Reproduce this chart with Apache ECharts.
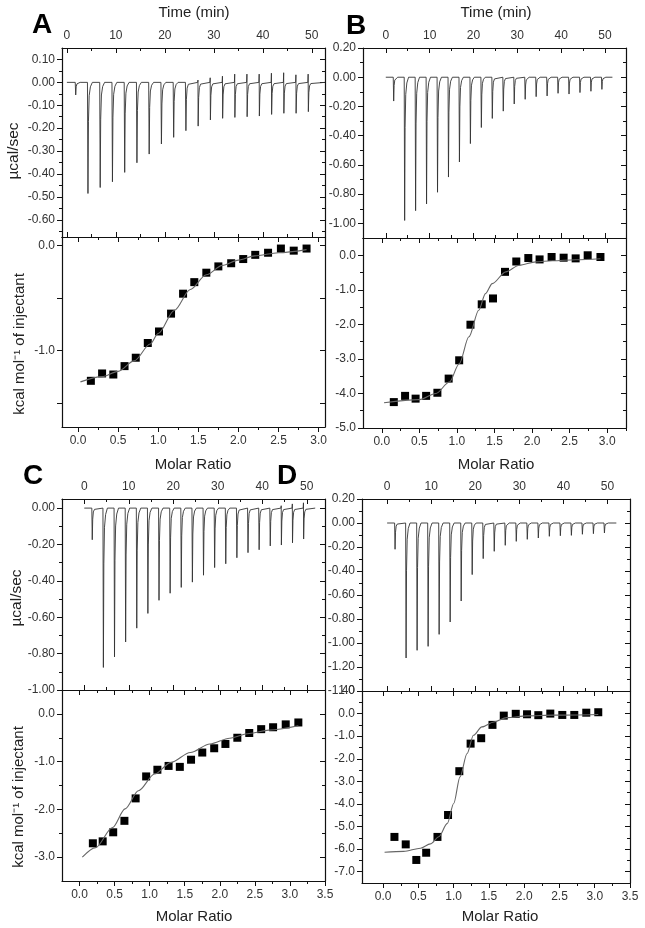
<!DOCTYPE html>
<html>
<head>
<meta charset="utf-8">
<script src="https://cdn.jsdelivr.net/npm/echarts@6/dist/echarts.min.js"></script>
<style>
  html, body { margin: 0; padding: 0; background: #fff; }
  #main { width: 645px; height: 928px; }
</style>
</head>
<body>
<div id="main"></div>
<script>
// injection times (min), same schedule in all four runs
const injTime = [1.8, 4.3, 6.8, 9.3, 11.8, 14.3, 16.8, 19.3, 21.8, 24.3, 26.8, 29.3, 31.8, 34.3, 36.8, 39.3, 41.8, 44.3, 46.8, 49.3];

// raw thermogram peak heights (ucal/sec)
const peakA = [-0.055, -0.485, -0.459, -0.434, -0.393, -0.351, -0.313, -0.269, -0.24, -0.211, -0.191, -0.164, -0.157, -0.153, -0.15, -0.147, -0.14, -0.135, -0.135, -0.128];
const blipA = [0, 0, 0, 0, 0, 0, 0, 0, 0, 0, 0.01, 0.02, 0.027, 0.036, 0.036, 0.036, 0.04, 0.042, 0.033, 0.036];
const peakB = [-0.163, -0.98, -0.913, -0.867, -0.787, -0.683, -0.58, -0.454, -0.344, -0.282, -0.232, -0.183, -0.151, -0.133, -0.128, -0.11, -0.115, -0.105, -0.096, -0.083];
const blipB = [0, 0, 0, 0, 0, 0, 0, 0, 0, 0, 0, 0, 0, 0, 0, 0, 0, 0, 0, 0];
const peakC = [-0.174, -0.876, -0.818, -0.736, -0.66, -0.579, -0.507, -0.468, -0.436, -0.407, -0.369, -0.327, -0.306, -0.273, -0.245, -0.229, -0.208, -0.203, -0.191, -0.17];
const blipC = [0, 0, 0, 0, 0, 0, 0, 0, 0, 0, 0, 0, 0, 0, 0, 0, 0.005, 0.013, 0.023, 0.029];
const peakD = [-0.219, -1.125, -1.061, -1.028, -0.928, -0.825, -0.65, -0.43, -0.297, -0.236, -0.186, -0.153, -0.136, -0.125, -0.111, -0.106, -0.103, -0.094, -0.089, -0.083];
const blipD = [0, 0, 0, 0, 0, 0, 0, 0, 0, 0, 0, 0, 0, 0, 0, 0, 0, 0, 0, 0];

// integrated heats (kcal/mol of injectant) vs molar ratio
const ratioA = [0.16, 0.30, 0.44, 0.58, 0.72, 0.87, 1.01, 1.16, 1.31, 1.45, 1.60, 1.75, 1.91, 2.06, 2.21, 2.37, 2.53, 2.69, 2.85];
const heatA = [-1.29, -1.22, -1.23, -1.15, -1.07, -0.93, -0.82, -0.65, -0.46, -0.35, -0.26, -0.20, -0.17, -0.13, -0.09, -0.07, -0.03, -0.05, -0.03];
const fitXA = [0.03, 0.3, 0.5, 0.7, 0.9, 1.0, 1.2, 1.4, 1.6, 1.8, 2.0, 2.2, 2.5, 2.85];
const fitYA = [-1.30, -1.25, -1.20, -1.10, -0.94, -0.84, -0.62, -0.42, -0.28, -0.19, -0.14, -0.10, -0.07, -0.04];

const ratioB = [0.16, 0.31, 0.45, 0.59, 0.74, 0.89, 1.03, 1.18, 1.33, 1.48, 1.64, 1.79, 1.95, 2.10, 2.26, 2.42, 2.58, 2.74, 2.91];
const heatB = [-4.25, -4.07, -4.15, -4.07, -3.98, -3.57, -3.04, -2.01, -1.42, -1.25, -0.48, -0.18, -0.08, -0.12, -0.05, -0.07, -0.09, 0.0, -0.05];
const fitXB = [0.03, 0.5, 0.72, 0.9, 1.03, 1.16, 1.29, 1.38, 1.47, 1.65, 1.83, 2.05, 2.27, 2.58, 2.91];
const fitYB = [-4.27, -4.18, -4.0, -3.67, -3.14, -2.36, -1.59, -1.11, -0.82, -0.48, -0.29, -0.19, -0.16, -0.13, -0.10];

const ratioC = [0.19, 0.33, 0.48, 0.64, 0.80, 0.95, 1.11, 1.27, 1.43, 1.59, 1.75, 1.92, 2.08, 2.25, 2.42, 2.59, 2.76, 2.94, 3.12];
const heatC = [-2.71, -2.67, -2.48, -2.24, -1.77, -1.31, -1.17, -1.09, -1.11, -0.96, -0.81, -0.72, -0.63, -0.50, -0.40, -0.32, -0.28, -0.22, -0.18];
const fitXC = [0.04, 0.23, 0.47, 0.65, 0.84, 1.07, 1.30, 1.58, 1.86, 2.14, 2.42, 2.70, 3.12];
const fitYC = [-3.0, -2.80, -2.38, -1.99, -1.61, -1.26, -1.02, -0.81, -0.63, -0.51, -0.41, -0.34, -0.25];

const ratioD = [0.16, 0.32, 0.47, 0.61, 0.77, 0.92, 1.08, 1.24, 1.39, 1.55, 1.71, 1.88, 2.04, 2.20, 2.37, 2.54, 2.71, 2.88, 3.05];
const heatD = [-5.46, -5.79, -6.48, -6.16, -5.46, -4.49, -2.55, -1.33, -1.09, -0.50, -0.09, -0.01, -0.03, -0.07, 0.0, -0.06, -0.06, 0.04, 0.06];
const fitXD = [0.02, 0.29, 0.53, 0.67, 0.79, 0.91, 1.0, 1.09, 1.19, 1.28, 1.40, 1.57, 1.75, 2.04, 2.42, 3.05];
const fitYD = [-6.14, -6.10, -5.96, -5.77, -5.45, -4.86, -3.98, -2.80, -1.77, -0.96, -0.59, -0.37, -0.18, -0.10, -0.07, -0.04];

// tick labels
const timeTicks = [0, 10, 20, 30, 40, 50];
const timeMinor = [5, 15, 25, 35, 45];
const ratioTicks = [0, 0.5, 1.0, 1.5, 2.0, 2.5, 3.0];
const ratioTicks35 = [0, 0.5, 1.0, 1.5, 2.0, 2.5, 3.0, 3.5];
const ratioMinor = [0.25, 0.75, 1.25, 1.75, 2.25, 2.75, 3.25];
const rawTicksA = [0.1, 0, -0.1, -0.2, -0.3, -0.4, -0.5, -0.6];
const rawMinorA = [0.05, -0.05, -0.15, -0.25, -0.35, -0.45, -0.55, -0.65];
const rawTicksB = [0.2, 0, -0.2, -0.4, -0.6, -0.8, -1.0];
const rawMinorB = [0.1, -0.1, -0.3, -0.5, -0.7, -0.9];
const rawTicksC = [0, -0.2, -0.4, -0.6, -0.8, -1.0];
const rawMinorC = [-0.1, -0.3, -0.5, -0.7, -0.9];
const rawTicksD = [0.2, 0, -0.2, -0.4, -0.6, -0.8, -1.0, -1.2, -1.4];
const rawMinorD = [0.1, -0.1, -0.3, -0.5, -0.7, -0.9, -1.1, -1.3];
const heatTicksA = [0, -1.0];
const heatMinorA = [-0.5, -1.5];
const heatTicksB = [0, -1, -2, -3, -4, -5];
const heatMinorB = [-0.5, -1.5, -2.5, -3.5, -4.5];
const heatTicksC = [0, -1, -2, -3];
const heatMinorC = [-0.5, -1.5, -2.5];
const heatTicksD = [1, 0, -1, -2, -3, -4, -5, -6, -7];
const heatMinorD = [0.5, -0.5, -1.5, -2.5, -3.5, -4.5, -5.5, -6.5];

const FONT = 'Liberation Sans, Arial, sans-serif';
const grids = [], xAxes = [], yAxes = [], series = [];

// one axis (line + ticks, maybe labels)
function axis(gi, pos, r, ticks, o) {
  return {
    type: 'value', gridIndex: gi, position: pos, min: r[0], max: r[1],
    axisLine: { show: !!o.line, onZero: false, lineStyle: { color: '#111', width: 1.2 } },
    axisTick: { show: true, inside: !!o.inside, length: o.len, customValues: ticks, lineStyle: { color: '#111', width: 1 } },
    axisLabel: o.labels ? {
      show: true, customValues: o.labels, formatter: o.fmt, color: '#333',
      fontSize: 12, fontFamily: FONT, margin: o.margin
    } : { show: false },
    splitLine: { show: false }
  };
}

// framed panel: labelled x side + mirrored side, labelled left y + mirrored right
function panel(box, xr, yr, xs, ys, xTop) {
  const gi = grids.length;
  grids.push({ left: box[0], top: box[1], width: box[2], height: box[3] });
  const xi = xAxes.length, yi = yAxes.length;
  const xp = xTop ? 'top' : 'bottom', xo = xTop ? 'bottom' : 'top';
  xAxes.push(axis(gi, xp, xr, xs.major, { line: true, inside: xTop, len: 5, labels: xs.major, fmt: xs.fmt, margin: xTop ? 6 : 8 }));
  xAxes.push(axis(gi, xp, xr, xs.minor, { inside: xTop, len: 3 }));
  xAxes.push(axis(gi, xo, xr, xs.major, { line: true, inside: true, len: 5 }));
  xAxes.push(axis(gi, xo, xr, xs.minor, { inside: true, len: 3 }));
  yAxes.push(axis(gi, 'left', yr, ys.major, { line: true, inside: false, len: 5, labels: ys.labels || ys.major, fmt: ys.fmt, margin: 7 }));
  yAxes.push(axis(gi, 'left', yr, ys.minor, { inside: false, len: 3 }));
  yAxes.push(axis(gi, 'right', yr, ys.major, { line: true, inside: true, len: 5 }));
  yAxes.push(axis(gi, 'right', yr, ys.minor, { inside: true, len: 3 }));
  return { xi, yi };
}

// raw heat-flow trace from the read peak heights
function trace(peaks, blips, tEnd) {
  const pts = [[0, 0]];
  injTime.forEach((t, i) => {
    const p = peaks[i];
    pts.push([t - 0.1, 0]);
    if (blips[i]) pts.push([t - 0.04, blips[i]]);
    pts.push([t, p], [t + 0.1, p * 0.35], [t + 0.25, p * 0.12], [t + 0.5, p * 0.04], [t + 0.9, 0]);
  });
  pts.push([tEnd, 0]);
  return pts;
}

function addRaw(ax, peaks, blips, tEnd) {
  series.push({
    type: 'line', xAxisIndex: ax.xi, yAxisIndex: ax.yi, data: trace(peaks, blips, tEnd),
    showSymbol: false, silent: true, lineStyle: { color: '#333', width: 0.9 }
  });
}

function addIso(ax, rx, hy, fx, fy) {
  series.push({
    type: 'line', xAxisIndex: ax.xi, yAxisIndex: ax.yi, data: fx.map((v, i) => [v, fy[i]]),
    smooth: 0.3, smoothMonotone: 'x', showSymbol: false, silent: true,
    lineStyle: { color: '#666', width: 1.1 }
  });
  series.push({
    type: 'scatter', xAxisIndex: ax.xi, yAxisIndex: ax.yi, data: rx.map((v, i) => [v, hy[i]]),
    symbol: 'rect', symbolSize: 8, itemStyle: { color: '#000', opacity: 1 }, silent: true
  });
}

const f0 = v => String(Math.round(v));
const f1 = v => v.toFixed(1);
const f2 = v => v.toFixed(2);
const timeX = { major: timeTicks, minor: timeMinor, fmt: f0 };
const ratX = { major: ratioTicks, minor: ratioMinor, fmt: f1 };
const ratX35 = { major: ratioTicks35, minor: ratioMinor, fmt: f1 };

// A
let ax = panel([62, 48, 263, 189], [-1, 52.7], [-0.675, 0.15], timeX, { major: rawTicksA, minor: rawMinorA, fmt: f2 }, true);
addRaw(ax, peakA, blipA, 52.7);
ax = panel([62, 237, 263, 190], [-0.2, 3.08], [-1.73, 0.08], ratX, { major: heatTicksA.concat(heatMinorA), labels: heatTicksA, minor: [], fmt: f1 }, false);
addIso(ax, ratioA, heatA, fitXA, fitYA);
// B
ax = panel([363, 48, 263, 190], [-5.2, 54.8], [-1.1, 0.2], timeX, { major: rawTicksB, minor: rawMinorB, fmt: f2 }, true);
addRaw(ax, peakB, blipB, 51.7);
ax = panel([363, 238, 263, 190], [-0.25, 3.25], [-5, 0.5], ratX, { major: heatTicksB, minor: heatMinorB, fmt: f1 }, false);
addIso(ax, ratioB, heatB, fitXB, fitYB);
// C
ax = panel([62, 499, 263, 191], [-5, 54.1], [-1.0, 0.05], timeX, { major: rawTicksC, minor: rawMinorC, fmt: f2 }, true);
addRaw(ax, peakC, blipC, 51.9);
ax = panel([62, 690, 263, 191], [-0.25, 3.5], [-3.5, 0.5], ratX35, { major: heatTicksC, minor: heatMinorC, fmt: f1 }, false);
addIso(ax, ratioC, heatC, fitXC, fitYC);
// D
ax = panel([362, 499, 268, 192], [-5.7, 55.1], [-1.4, 0.2], timeX, { major: rawTicksD, minor: rawMinorD, fmt: f2 }, true);
addRaw(ax, peakD, blipD, 52.0);
ax = panel([362, 691, 268, 192], [-0.3, 3.5], [-7.5, 1.0], ratX35, { major: heatTicksD, minor: heatMinorD, fmt: f1 }, false);
addIso(ax, ratioD, heatD, fitXD, fitYD);

function txt(x, y, s, size, opt) {
  opt = opt || {};
  return {
    type: 'text', x: x, y: y, rotation: opt.rot || 0, silent: true,
    style: {
      text: s, x: 0, y: 0, align: 'center', verticalAlign: 'middle',
      fontSize: size, fontFamily: FONT, fontWeight: opt.bold ? 'bold' : 'normal', fill: opt.color || '#222'
    }
  };
}

const labels = [
  txt(42, 25, 'A', 28, { bold: true, color: '#000' }),
  txt(356, 26, 'B', 28, { bold: true, color: '#000' }),
  txt(33, 476, 'C', 28, { bold: true, color: '#000' }),
  txt(287, 476, 'D', 28, { bold: true, color: '#000' }),
  txt(194, 13, 'Time (min)', 15),
  txt(496, 13, 'Time (min)', 15),
  txt(193, 465, 'Molar Ratio', 15),
  txt(496, 465, 'Molar Ratio', 15),
  txt(194, 917, 'Molar Ratio', 15),
  txt(500, 917, 'Molar Ratio', 15),
  txt(14, 151, 'µcal/sec', 15.5, { rot: Math.PI / 2 }),
  txt(17, 598, 'µcal/sec', 15.5, { rot: Math.PI / 2 }),
  txt(20, 344, 'kcal mol⁻¹ of injectant', 15, { rot: Math.PI / 2 }),
  txt(19, 797, 'kcal mol⁻¹ of injectant', 15, { rot: Math.PI / 2 })
];

const chart = echarts.init(document.getElementById('main'), null, { renderer: 'canvas' });
chart.setOption({
  animation: false,
  backgroundColor: '#fff',
  grid: grids,
  xAxis: xAxes,
  yAxis: yAxes,
  series: series,
  graphic: labels
});
</script>
</body>
</html>
